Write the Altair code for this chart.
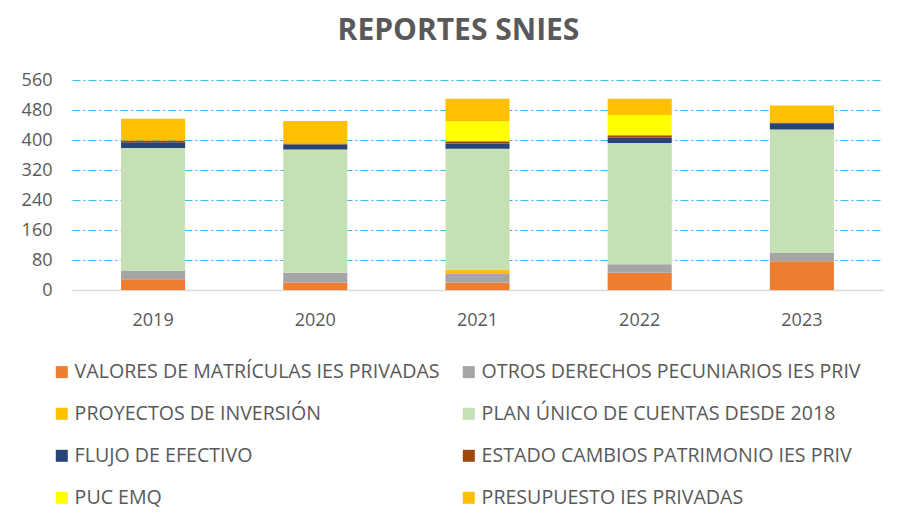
import altair as alt
import pandas as pd

years = ["2019", "2020", "2021", "2022", "2023"]
series = [
    "VALORES DE MATRÍCULAS IES PRIVADAS",
    "OTROS DERECHOS PECUNIARIOS IES PRIV",
    "PROYECTOS DE INVERSIÓN",
    "PLAN ÚNICO DE CUENTAS DESDE 2018",
    "FLUJO DE EFECTIVO",
    "ESTADO CAMBIOS PATRIMONIO IES PRIV",
    "PUC EMQ",
    "PRESUPUESTO IES PRIVADAS",
]
valores = [29, 20, 20, 46, 77]
otros = [23, 26, 23, 23, 23]
proyectos = [0, 0, 12, 0, 0]
plan = [327, 329, 322, 323, 328]
flujo = [15, 13, 13, 14, 17]
estado = [5, 3, 7, 7, 2]
puc = [0, 0, 53, 54, 0]
presupuesto = [58, 60, 60, 43, 45]
colors = ["#ED7D31", "#A5A5A5", "#FFC000", "#C5E0B4", "#264478", "#9E480E", "#FFFF00", "#FFC000"]
y_ticks = [0, 80, 160, 240, 320, 400, 480, 560]

all_vals = [valores, otros, proyectos, plan, flujo, estado, puc, presupuesto]
rows = []
for i, (name, vals) in enumerate(zip(series, all_vals)):
    for yr, v in zip(years, vals):
        rows.append({"year": yr, "serie": name, "valor": v, "orden": i})
df = pd.DataFrame(rows)

FONT = "Open Sans"
GRAY = "#595959"

chart = alt.Chart(df).mark_bar().encode(
    x=alt.X(
        "year:N",
        sort=years,
        scale=alt.Scale(paddingInner=0.605, paddingOuter=0.3025),
        axis=alt.Axis(
            title=None, labelAngle=0, labelFontSize=18, labelColor=GRAY, labelFont=FONT,
            labelPadding=21, ticks=False, domainColor="#D9D9D9", domainWidth=1.5,
        ),
    ),
    y=alt.Y(
        "valor:Q",
        stack="zero",
        scale=alt.Scale(domain=[0, 560], nice=False),
        axis=alt.Axis(
            title=None, values=y_ticks, labelFontSize=18, labelColor=GRAY, labelFont=FONT,
            labelPadding=20, ticks=False, domain=False,
            gridColor=alt.condition("datum.value === 0", alt.value("#D9D9D9"), alt.value("#3FB6EE")),
            gridDash=alt.condition("datum.value === 0", alt.value([1, 0]), alt.value([8, 3, 2, 3])),
            gridWidth=1.2,
        ),
    ),
    color=alt.Color(
        "serie:N",
        sort=series,
        scale=alt.Scale(domain=series, range=colors),
        legend=alt.Legend(
            title=None, orient="none", legendX=-20, legendY=282, columns=2, direction="horizontal",
            columnPadding=19, rowPadding=21, symbolType="square", symbolSize=144,
            symbolStrokeWidth=0, labelFontSize=19.6, labelColor=GRAY, labelFont=FONT,
            labelOffset=3, padding=0, labelLimit=500,
        ),
    ),
    order=alt.Order("orden:Q"),
).properties(
    width=811,
    height=210,
    autosize=alt.AutoSizeParams(type="none"),
    padding={"left": 64, "top": 72, "right": 12, "bottom": 231},
    title=alt.TitleParams(
        "REPORTES SNIES", fontSize=30, fontWeight="bold", color=GRAY, font=FONT,
        anchor="middle", dx=-19, offset=25,
    ),
).configure_view(stroke=None)

chart.save("out.html", embed_options={"renderer": "svg", "actions": False})
